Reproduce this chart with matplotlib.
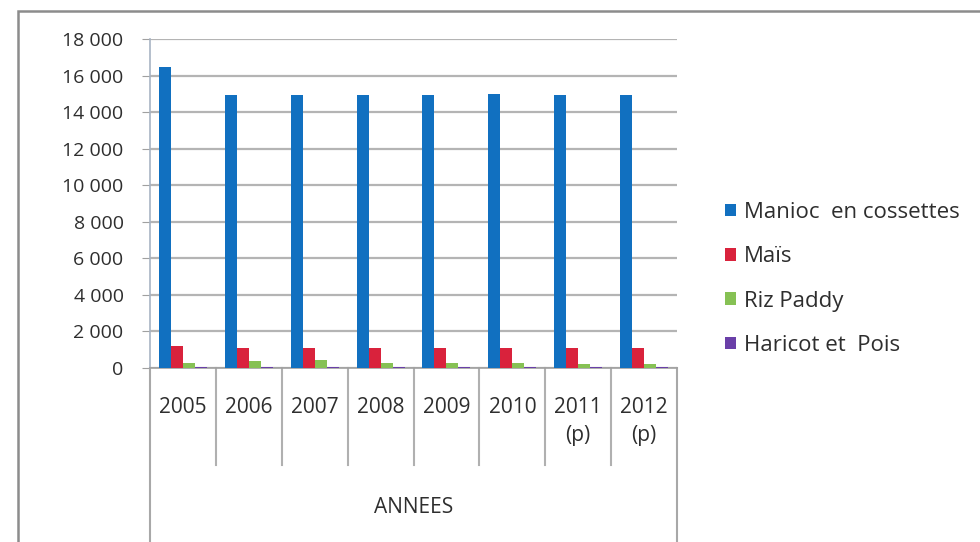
import matplotlib.pyplot as plt
import matplotlib.patches as patches
import numpy as np

plt.rcParams['font.family'] = ['Open Sans', 'DejaVu Sans']

# --- data ---
annees = ['2005', '2006', '2007', '2008', '2009', '2010', '2011\n(p)', '2012\n(p)']
manioc = [16450, 14950, 14950, 14950, 14950, 15000, 14950, 14950]
mais = [1200, 1100, 1100, 1100, 1100, 1100, 1100, 1100]
riz = [250, 400, 450, 250, 250, 250, 200, 200]
haricot = [80, 80, 80, 80, 80, 80, 80, 80]

series = [
    ('Manioc  en cossettes', manioc, '#1170c0'),
    ('Maïs', mais, '#d9223c'),
    ('Riz Paddy', riz, '#86c154'),
    ('Haricot et  Pois', haricot, '#6a3fa8'),
]
txt = '#2e2e2e'

fig = plt.figure(figsize=(9.8, 5.42), dpi=100)
ax = fig.add_axes([150 / 980, 1 - 368 / 542, (677 - 150) / 980, (368 - 39) / 542])

x = np.arange(len(annees))
w = 1 / 5.5
for i, (name, vals, col) in enumerate(series):
    ax.bar(x + (i - 1.5) * w, vals, width=w, color=col, label=name, zorder=3)

ax.set_xlim(-0.5, len(annees) - 0.5)
ax.set_ylim(0, 18000)
ax.set_yticks(range(0, 18001, 2000))
ax.set_yticklabels([f'{v:,}'.replace(',', ' ') for v in range(0, 18001, 2000)])
ax.yaxis.grid(True, color='#b4b4b4', lw=1.6, zorder=0)
ax.set_axisbelow(True)

for s in ['top', 'right']:
    ax.spines[s].set_visible(False)
ax.spines['left'].set_color('#a8b4c4')
ax.spines['bottom'].set_color('#a0a0a0')
ax.spines['left'].set_linewidth(1.2)
ax.spines['bottom'].set_linewidth(1.2)

ax.tick_params(axis='y', length=6, color='#a0a0a0', pad=13, labelsize=14, labelcolor=txt)
ax.set_xticks(x)
ax.set_xticklabels(annees, linespacing=1.45)
ax.tick_params(axis='x', length=0, pad=21, labelsize=15, labelcolor=txt)

# category boxes below the axis
tr = ax.get_xaxis_transform()
for b in np.arange(0.5, len(annees) - 1, 1.0):
    ax.plot([b, b], [0, -0.295], transform=tr, color='#b0b0b0', lw=1.5, clip_on=False)
for b in [-0.5, len(annees) - 0.5]:
    ax.plot([b, b], [0, -0.6], transform=tr, color='#a8a8a8', lw=1.5, clip_on=False)
ax.text(3.5, -0.425, 'ANNEES', transform=tr, ha='center', va='center',
        fontsize=15, color=txt)

ax.legend(loc='center left', bbox_to_anchor=(716 / 980, 1 - 279 / 542),
          bbox_transform=fig.transFigure, frameon=False, fontsize=16,
          handlelength=0.5, handleheight=0.5, handletextpad=0.35,
          labelspacing=1.05, borderaxespad=0, labelcolor=txt)

# outer chart border (cut at right and bottom)
fig.patches.append(patches.Rectangle((18 / 980, -0.2), 1.2, 1.2 - 11 / 542,
                                     transform=fig.transFigure, fill=False,
                                     edgecolor='#8c8c8c', lw=1.8))

plt.savefig('out.png', dpi=100)
